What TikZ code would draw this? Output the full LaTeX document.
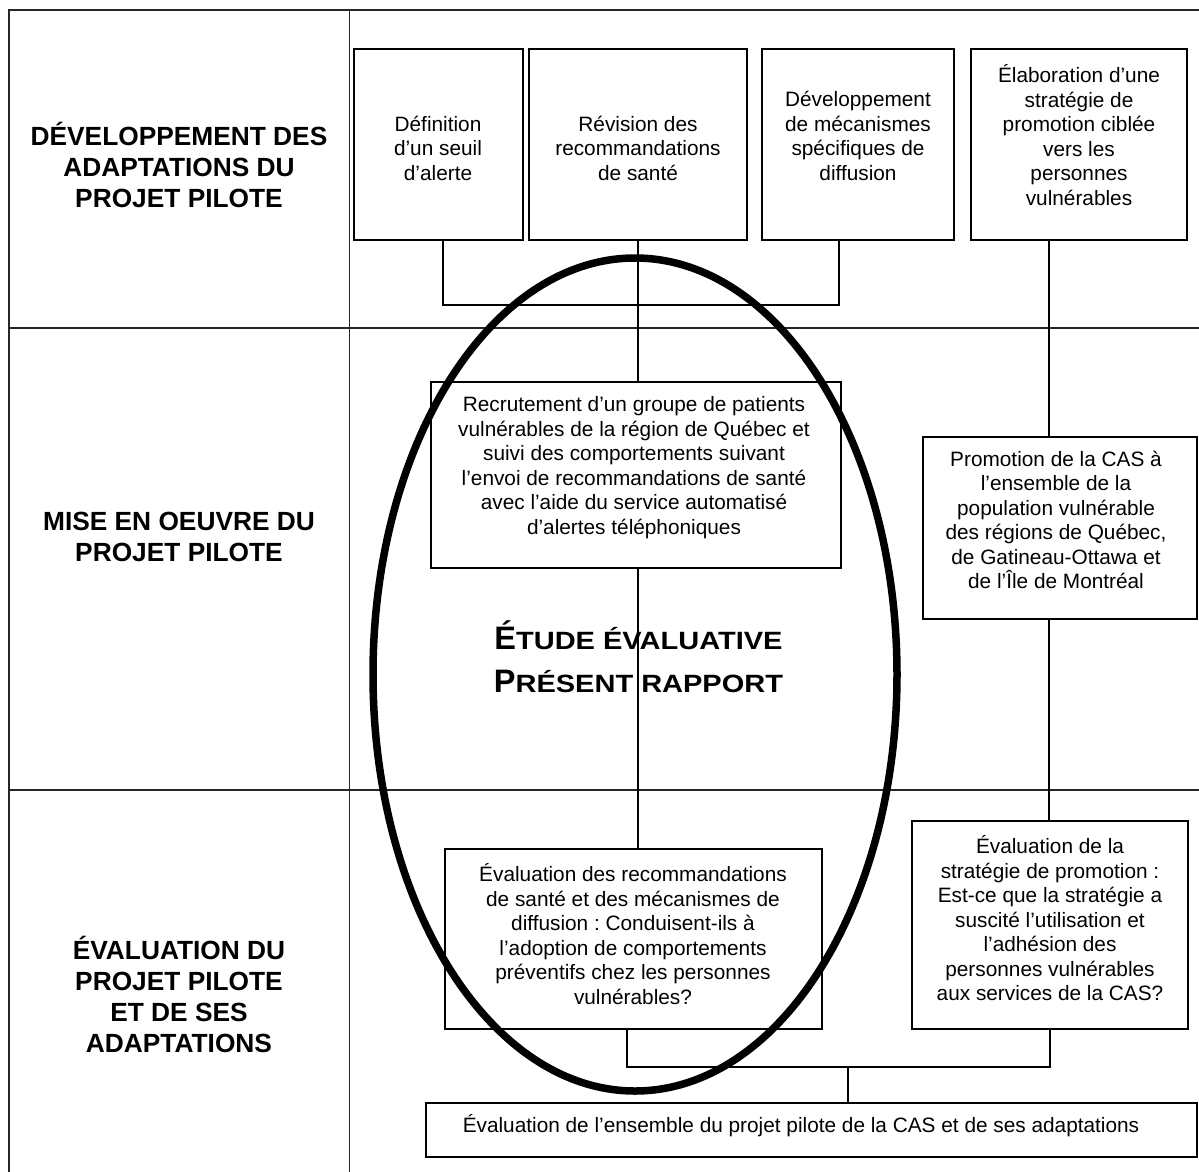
\documentclass[tikz,border=0pt]{standalone}
\usepackage{fontspec}
\setmainfont{Liberation Sans}
\frenchspacing
\begin{document}
\begin{tikzpicture}[x=1pt,y=-1pt,
  frame/.style={line width=2pt, draw=black!85},
  colline/.style={line width=1pt, draw=black!85},
  box/.style={draw, line width=1.8pt, rectangle, inner sep=0pt},
  txt/.style={align=center, font=\fontsize{20.8}{24.5}\selectfont, inner sep=0pt},
  lab/.style={align=center, font=\bfseries\fontsize{26.3}{31}\selectfont, inner sep=0pt},
  conn/.style={line width=1.3pt},
  oval/.style={line width=7.5pt}]
\useasboundingbox (0,0) rectangle (1199,1172);
% grid
\draw[frame] (1199,10) -- (9,10) -- (9,1172);
\draw[frame] (9,328) -- (1199,328);
\draw[frame] (9,790) -- (1199,790);
\draw[colline] (349,10) -- (349,1172);
% row labels
\node[lab] (L1) at (179,164.5) {DÉVELOPPEMENT DES\\ADAPTATIONS DU\\PROJET PILOTE};
\node[lab] (L2) at (179,537) {MISE EN OEUVRE DU\\PROJET PILOTE};
\node[lab] (L3) at (179,994.5) {ÉVALUATION DU\\PROJET PILOTE\\ET DE SES\\ADAPTATIONS};
% boxes
\node[box, minimum width=169, minimum height=191] (A) at (438.5,144.5) {};
\node[box, minimum width=218, minimum height=191] (B) at (638,144.5) {};
\node[box, minimum width=192, minimum height=191] (C) at (858,144.5) {};
\node[box, minimum width=216, minimum height=191] (D) at (1079,144.5) {};
\node[box, minimum width=410, minimum height=186] (E) at (636,475) {};
\node[box, minimum width=274, minimum height=182] (F) at (1060,528) {};
\node[box, minimum width=377, minimum height=180] (G) at (633.5,939) {};
\node[box, minimum width=276, minimum height=208] (H) at (1050,925) {};
\node[box, minimum width=771, minimum height=54] (I) at (811.5,1130) {};
% texts
\node[txt] (At) at (438,148) {Définition\\d’un seuil\\d’alerte};
\node[txt] (Bt) at (638,148) {Révision des\\recommandations\\de santé};
\node[txt] (Ct) at (858,136) {Développement\\de mécanismes\\spécifiques de\\diffusion};
\node[txt] (Dt) at (1079,135) {Élaboration d’une\\stratégie de\\promotion ciblée\\vers les\\personnes\\vulnérables};
\node[txt] (Et) at (634,467.5) {Recrutement d’un groupe de patients\\vulnérables de la région de Québec et\\suivi des comportements suivant\\l’envoi de recommandations de santé\\avec l’aide du service automatisé\\d’alertes téléphoniques};
\node[txt] (Ft) at (1056,520) {Promotion de la CAS à\\l’ensemble de la\\population vulnérable\\des régions de Québec,\\de Gatineau-Ottawa et\\de l’Île de Montréal};
\node[txt] (Gt) at (633,934) {Évaluation des recommandations\\de santé et des mécanismes de\\diffusion : Conduisent-ils à\\l’adoption de comportements\\préventifs chez les personnes\\vulnérables?};
\node[txt] (Ht) at (1050,918.5) {Évaluation de la\\stratégie de promotion :\\Est-ce que la stratégie a\\suscité l’utilisation et\\l’adhésion des\\personnes vulnérables\\aux services de la CAS?};
\node[txt] (It) at (801,1126) {Évaluation de l’ensemble du projet pilote de la CAS et de ses adaptations};
% big text
\node[align=center, inner sep=0pt, font=\bfseries\fontsize{32.5}{43}\selectfont] (Big) at (638.5,657)
  {É{\fontsize{25}{43}\selectfont\addfontfeature{FakeStretch=1.16}TUDE ÉVALUATIVE}\\P{\fontsize{25}{43}\selectfont\addfontfeature{FakeStretch=1.16}RÉSENT RAPPORT}};
% connectors
\coordinate (bar1) at (638,305);
\coordinate (xl) at (1049,0);
\coordinate (bar2) at (627,1067);
\coordinate (jI) at (848,1067);
\draw[conn] ([xshift=4.5pt]A.south) |- (bar1) -| ([xshift=-19pt]C.south);
\draw[conn] (B.south) -- (B.south |- E.north);
\draw[conn] (D.south -| xl) -- (F.north -| xl);
\draw[conn] (F.south -| xl) -- (H.north -| xl);
\draw[conn] (E.south -| B.south) -- (G.north -| B.south);
\draw[conn] (G.south -| bar2) |- (bar2 -| H.south) -- (H.south);
\draw[conn] (jI) -- (I.north -| jI);
% ellipse
\draw[oval] (635,674.5) ellipse [x radius=262, y radius=416.5];
\end{tikzpicture}
\end{document}
